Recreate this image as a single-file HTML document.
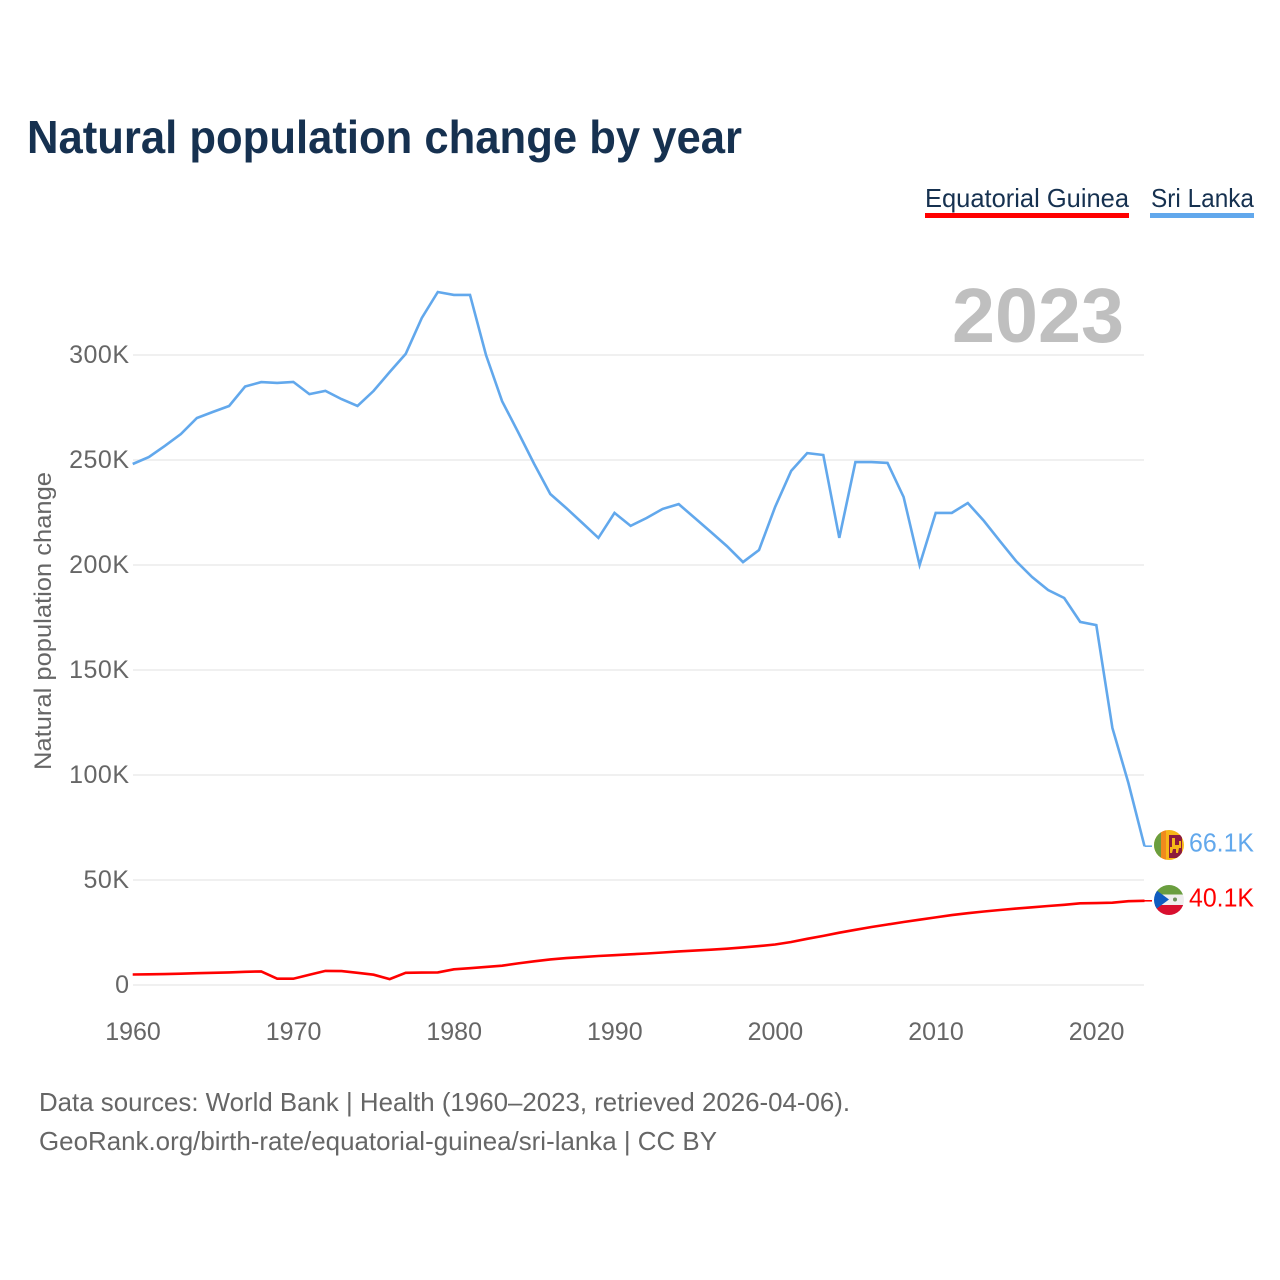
<!DOCTYPE html>
<html lang="en">
<head>
<meta charset="utf-8">
<title>Natural population change by year</title>
<style>
html,body{margin:0;padding:0;background:#fff;}
svg{display:block;font-family:"Liberation Sans",sans-serif;}
</style>
</head>
<body>
<svg id="chart" width="1280" height="1280" viewBox="0 0 1280 1280" xmlns="http://www.w3.org/2000/svg">
  <defs>
    <clipPath id="clip-lk"><circle cx="1169" cy="845" r="15"/></clipPath>
    <clipPath id="clip-gq"><circle cx="1169" cy="900" r="15"/></clipPath>
  </defs>
  <rect x="0" y="0" width="1280" height="1280" fill="#fff"/>
  <text x="27" y="153" font-size="46" font-weight="700" fill="#163150" textLength="715" lengthAdjust="spacingAndGlyphs">Natural population change by year</text>

  <g>
    <g>
      <text x="925" y="207" font-size="26" fill="#163150" textLength="204" lengthAdjust="spacingAndGlyphs">Equatorial Guinea</text>
      <rect x="925" y="213" width="204" height="5" fill="#ff0000"/>
    </g>
    <g>
      <text x="1151" y="207" font-size="26" fill="#163150" textLength="103" lengthAdjust="spacingAndGlyphs">Sri Lanka</text>
      <rect x="1150" y="213" width="104" height="5" fill="#62a8ec"/>
    </g>
  </g>

  <g id="grid"></g>
  <g id="yticks"></g>
  <g id="xticks"></g>

  <text x="952" y="342" font-size="77" font-weight="700" fill="#bfbfbf" textLength="172" lengthAdjust="spacingAndGlyphs">2023</text>
  <text transform="translate(51,770) rotate(-90)" x="0" y="0" font-size="24.5" fill="#666" textLength="298" lengthAdjust="spacingAndGlyphs">Natural population change</text>

  <polyline id="line-lk" fill="none" stroke="#62a8ec" stroke-width="2.6" stroke-linejoin="miter"/>
  <polyline id="line-gq" fill="none" stroke="#ff0000" stroke-width="2.6" stroke-linejoin="miter"/>
  <line id="conn-lk" stroke="#62a8ec" stroke-width="1.6"/>
  <line id="conn-gq" stroke="#ff0000" stroke-width="1.6"/>

  <g clip-path="url(#clip-lk)">
    <rect x="1154" y="830" width="30" height="30" fill="#f7b718"/>
    <rect x="1154" y="830" width="7" height="30" fill="#6a9e3f"/>
    <rect x="1161" y="830" width="5" height="30" fill="#f08a1d"/>
    <rect x="1169" y="835" width="13" height="23" fill="#8d1b3d"/>
    <path d="M1172 838h3v7h4v-4h2v7h-2l-1 5h-2v-4h-3l-1 4h-2v-6h2z" fill="#f7b718"/>
  </g>
  <g clip-path="url(#clip-gq)">
    <rect x="1154" y="885" width="30" height="9.500" fill="#6a9e3f"/>
    <rect x="1154" y="894.500" width="30" height="10.500" fill="#eeeeee"/>
    <rect x="1154" y="905" width="30" height="10" fill="#d80f2f"/>
    <path d="M1150 885.500L1169 899.500L1150 913.500Z" fill="#0f5cc0"/>
    <circle cx="1175" cy="899.500" r="2" fill="#6f8f5a"/>
  </g>

  <text x="1189" y="851.500" font-size="26" fill="#62a8ec" textLength="65" lengthAdjust="spacingAndGlyphs">66.1K</text>
  <text x="1189" y="906.500" font-size="26" fill="#ff0000" textLength="65" lengthAdjust="spacingAndGlyphs">40.1K</text>

  <text x="39" y="1111" font-size="26" fill="#666" textLength="811" lengthAdjust="spacingAndGlyphs">Data sources: World Bank | Health (1960–2023, retrieved 2026-04-06).</text>
  <a><text x="39" y="1150" font-size="26" fill="#666" textLength="678" lengthAdjust="spacingAndGlyphs">GeoRank.org/birth-rate/equatorial-guinea/sri-lanka | CC BY</text></a>
</svg>

<script>
const firstYear = 1960;
const sriLanka = [248.1,251.4,256.7,262.4,270,272.9,275.7,285,287.1,286.7,287.2,281.4,282.9,279,275.7,282.9,291.9,300.5,317.6,330,328.6,328.6,300,278,263.3,248.1,233.8,227.1,220,212.9,224.8,218.6,222.4,226.7,229,222.4,215.7,209,201.4,207.1,227.6,244.8,253.3,252.4,212.9,249,249,248.6,232.4,200,224.8,224.8,229.5,221,211.4,201.9,194.3,188.1,184.3,172.9,171.4,122.4,96.2,66.1];
const equatorialGuinea = [5,5.1,5.2,5.4,5.6,5.8,6,6.3,6.5,3,3,4.9,6.7,6.6,5.8,4.9,2.8,5.8,5.9,6,7.5,8,8.6,9.2,10.3,11.3,12.2,12.8,13.3,13.8,14.2,14.6,15,15.5,16,16.4,16.8,17.3,17.9,18.5,19.3,20.5,22,23.4,24.9,26.3,27.6,28.8,30,31.1,32.2,33.3,34.2,35,35.7,36.4,37,37.6,38.2,38.9,39,39.2,39.9,40.1];
const yTickValues = [0,50,100,150,200,250,300];
const yTickLabels = ["0","50K","100K","150K","200K","250K","300K"];
const xTickValues = [1960,1970,1980,1990,2000,2010,2020];
const xTickLabels = ["1960","1970","1980","1990","2000","2010","2020"];

function xScale(year){ return 132.7 + (year - 1960) * 16.06; }
function yScale(value){ return 985 - value * 2.1; }

const NS = "http://www.w3.org/2000/svg";
const grid = document.getElementById("grid");
const yticks = document.getElementById("yticks");
const xticks = document.getElementById("xticks");

yTickValues.forEach(function(v, i){
  const line = document.createElementNS(NS, "line");
  
  
  line.setAttribute("x1", 133);
  line.setAttribute("x2", 1144);
  line.setAttribute("y1", yScale(v));
  line.setAttribute("y2", yScale(v));
  line.setAttribute("stroke", "#ececec");
  line.setAttribute("stroke-width", "1.4");
  grid.appendChild(line);

  const label = document.createElementNS(NS, "text");
  
  
  label.setAttribute("x", 129.5);
  label.setAttribute("y", yScale(v) + 8);
  label.setAttribute("text-anchor", "end");
  label.setAttribute("font-size", "25");
  label.setAttribute("letter-spacing", "0.5");
  label.setAttribute("fill", "#666");
  label.textContent = yTickLabels[i];
  yticks.appendChild(label);
});

xTickValues.forEach(function(v, i){
  const label = document.createElementNS(NS, "text");
  
  
  label.setAttribute("x", xScale(v) + 0.3);
  label.setAttribute("y", 1040);
  label.setAttribute("text-anchor", "middle");
  label.setAttribute("font-size", "25");
  label.setAttribute("fill", "#666");
  label.textContent = xTickLabels[i];
  xticks.appendChild(label);
});

function toPoints(series){
  return series.map(function(v, i){
    return xScale(firstYear + i).toFixed(1) + "," + yScale(v).toFixed(1);
  }).join(" ");
}
document.getElementById("line-lk").setAttribute("points", toPoints(sriLanka));
document.getElementById("line-gq").setAttribute("points", toPoints(equatorialGuinea));

function connector(id, series){
  const el = document.getElementById(id);
  const last = series[series.length - 1];
  const lastYear = firstYear + series.length - 1;
  el.setAttribute("x1", xScale(lastYear));
  el.setAttribute("x2", 1152);
  el.setAttribute("y1", yScale(last));
  el.setAttribute("y2", yScale(last));
}
connector("conn-lk", sriLanka);
connector("conn-gq", equatorialGuinea);
</script>
</body>
</html>
